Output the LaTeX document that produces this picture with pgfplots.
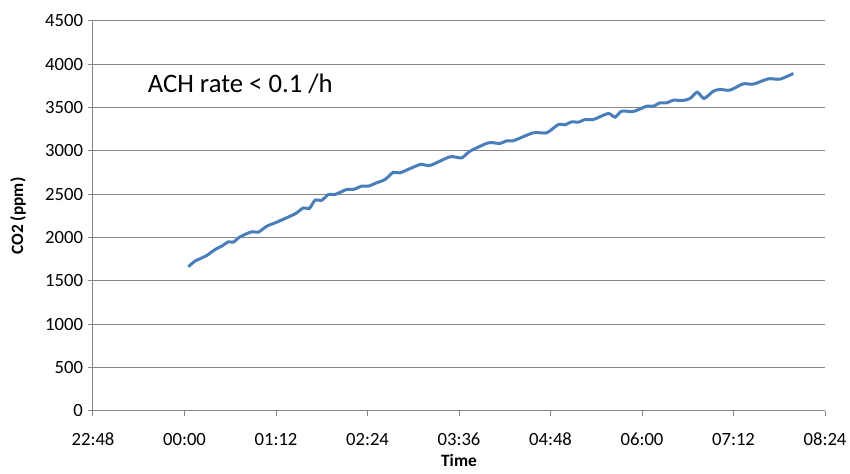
\documentclass[border=0pt]{standalone}
\usepackage{fontspec}
\setmainfont{Carlito}
\usepackage{pgfplots}
\pgfplotsset{compat=1.18}
\definecolor{excelblue}{HTML}{4A7EBB}
\definecolor{gridgray}{HTML}{868686}
\begin{document}
\begin{tikzpicture}[x=1pt,y=1pt]
\begin{axis}[
    scale only axis,
    width=549pt, height=292.5pt,
    at={(0,0)}, anchor=south west,
    xmin=0, xmax=576, ymin=0, ymax=4500,
    xtick={0,72,...,576},
    xticklabels={22:48,00:00,01:12,02:24,03:36,04:48,06:00,07:12,08:24},
    ytick={0,500,...,4500},
    ymajorgrids=true,
    grid style={gridgray, line width=0.75pt},
    axis line style={gridgray, line width=0.75pt},
    axis x line*=bottom, axis y line*=left,
    tick style={gridgray, line width=0.75pt},
    tick align=outside, major tick length=4pt,
    xtick pos=bottom, ytick pos=left,
    /pgf/number format/assume math mode=true,
    /pgf/number format/set thousands separator={},
    ticklabel style={font=\fontsize{14}{16}\selectfont, text=black},
    xticklabel style={yshift=-9pt},
    xlabel={\textbf{Time}},
    ylabel={\textbf{CO2 (ppm)}},
    label style={font=\fontsize{13}{15}\selectfont},
    xlabel style={at={(axis description cs:0.5,-0.128)}, anchor=center, inner sep=1pt},
    ylabel style={at={(axis description cs:-0.1025,0.5)}, anchor=center, rotate=0},
]
\addplot[excelblue, line width=2.25pt, smooth, tension=0.4] coordinates {
(75.0,1664)(80.3,1729)(89.5,1794)(96.0,1863)(101.3,1902)(106.5,1952)(110.4,1948)
(115.7,2010)(124.9,2068)(130.1,2063)(136.7,2132)(144.5,2178)(159.0,2275)(165.5,2344)
(170.2,2336)(174.7,2432)(180.0,2432)(185.2,2498)(190.4,2498)(199.6,2556)(204.8,2556)
(211.4,2594)(216.6,2594)(223.2,2633)(229.8,2671)(236.3,2755)(241.6,2748)(257.3,2844)
(265.2,2833)(280.9,2933)(290.1,2921)(296.7,2998)(311.1,3094)(320.3,3087)(325.5,3118)
(330.7,3118)(346.5,3210)(357.0,3210)(366.2,3306)(371.4,3302)(376.7,3336)(381.9,3333)
(387.2,3363)(393.7,3363)(405.5,3433)(410.8,3390)(416.0,3460)(425.2,3456)(435.7,3517)
(440.9,3517)(446.2,3556)(451.5,3556)(456.6,3586)(464.5,3583)(469.8,3606)(475.5,3678)
(480.8,3606)(488.1,3690)(493.4,3710)(501.2,3702)(511.7,3775)(519.6,3771)(531.4,3833)
(540.6,3829)(551.1,3894)
};
\node[anchor=west, font=\fontsize{20}{22}\selectfont, inner sep=0pt] at (axis cs:43,3770) {ACH rate < 0.1 /h};
\end{axis}
\pgfresetboundingbox
\path (-69.75pt,-47.25pt) rectangle (567.75pt,308.25pt);
\end{tikzpicture}
\end{document}
